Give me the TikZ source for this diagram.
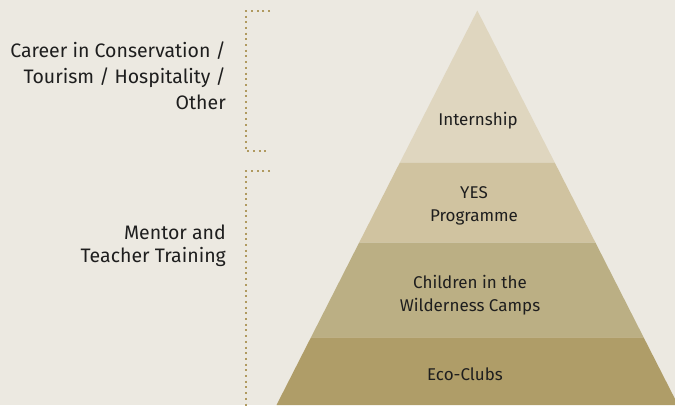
\documentclass[tikz,border=0pt]{standalone}
\usepackage{fontspec}
\setmainfont{Fira Sans}
\definecolor{bg}{HTML}{ECE9E1}
\definecolor{bandA}{HTML}{DFD6BF}
\definecolor{bandB}{HTML}{D0C3A0}
\definecolor{bandC}{HTML}{BBAF84}
\definecolor{bandD}{HTML}{AF9D68}
\definecolor{dotc}{HTML}{B09A60}
\definecolor{txt}{HTML}{1E1E1E}
\begin{document}
\begin{tikzpicture}[x=1pt,y=-1pt,
  lbl/.style={font=\fontsize{17}{23}\selectfont, text=txt, align=center, inner sep=0pt},
  side/.style={text=txt, align=right, inner sep=0pt, anchor=east},
  bracket/.style={draw=dotc, line width=2pt, dash pattern=on 2pt off 3.7pt}]
\fill[bg] (0,0) rectangle (675,405);
\useasboundingbox (0,0) rectangle (675,405);
% pyramid bands
\fill[bandA] (477.3,10.5) -- (554.8,162.7) -- (399.8,162.7) -- cycle;
\fill[bandB] (399.8,162.7) -- (554.8,162.7) -- (595.5,242.7) -- (359.1,242.7) -- cycle;
\fill[bandC] (359.1,242.7) -- (595.5,242.7) -- (643.6,337.3) -- (311.0,337.3) -- cycle;
\fill[bandD] (311.0,337.3) -- (643.6,337.3) -- (678.1,405) -- (276.5,405) -- cycle;
% labels
\node[lbl] (intern) at (478,120.5) {Internship};
\node[lbl] (yes) at (474,205.5) {YES\\Programme};
\node[lbl] (camps) at (470,295.5) {Children in the\\Wilderness Camps};
\node[lbl] (eco) at (465,374.5) {Eco-Clubs};
% side labels
\node[side, font=\fontsize{19.5}{26}\selectfont] (career) at (226,76) {Career in Conservation /\\Tourism / Hospitality /\\Other};
\node[side, font=\fontsize{19.5}{23.5}\selectfont] (mentor) at (226,246) {Mentor and\\Teacher Training};
% brackets
\coordinate (b1a) at (270,11.3);
\coordinate (b1b) at (245.7,11.3);
\coordinate (b1c) at (245.7,150.7);
\coordinate (b1d) at (270,150.7);
\draw[bracket] (b1a) -- (b1b) -- (b1c) -- (b1d);
\coordinate (b2a) at (270,171.3);
\coordinate (b2b) at (245.7,171.3);
\coordinate (b2c) at (245.7,408);
\draw[bracket] (b2a) -- (b2b) -- (b2c);
\end{tikzpicture}
\end{document}
